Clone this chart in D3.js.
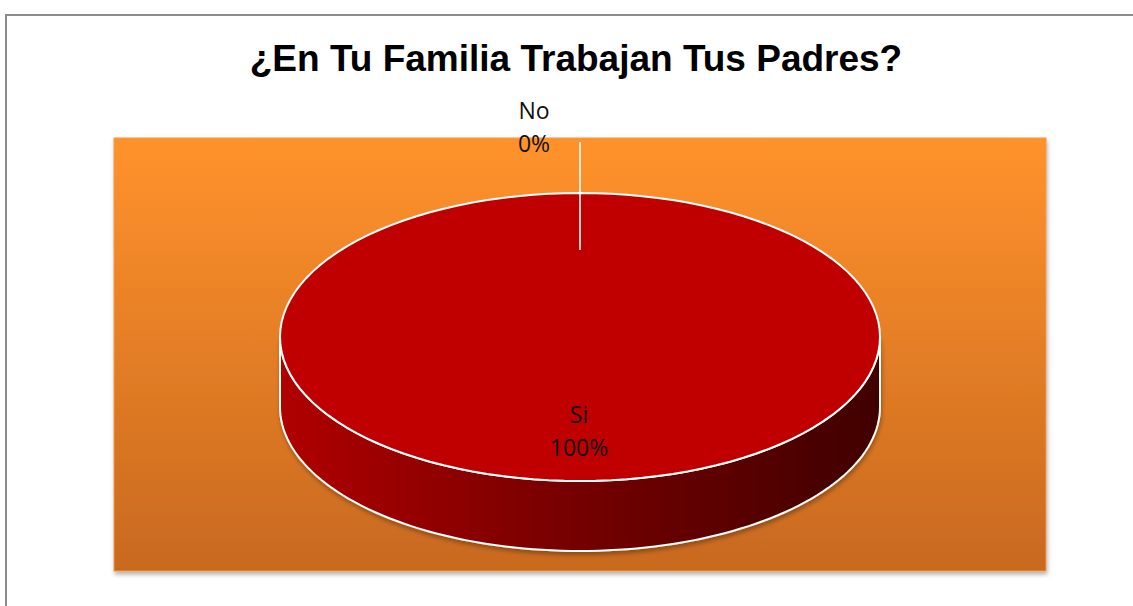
<!DOCTYPE html>
<html>
<head>
<meta charset="utf-8">
<script src="https://cdn.jsdelivr.net/npm/d3@7"></script>
<style>
  body{margin:0;background:#fff;}
  svg{display:block;}
</style>
</head>
<body>
<svg id="chart" width="1133" height="606"></svg>
<script>
// datos del grafico
const categorias = ["Si", "No"]
const valores = [100, 0]
const porcentajes = ["100%", "0%"]
const titulo = "¿En Tu Familia Trabajan Tus Padres?"

const svg = d3.select("#chart")
const defs = svg.append("defs")

// marco exterior
svg.append("rect")
  .attr("x", 6).attr("y", 15)
  .attr("width", 1140).attr("height", 620)
  .attr("fill", "#fff").attr("stroke", "#8c8c8c").attr("stroke-width", 2)

// gradiente del area de trazado
const gPlot = defs.append("linearGradient").attr("id", "gplot")
  .attr("x1", 0).attr("y1", 0).attr("x2", 0).attr("y2", 1)
gPlot.append("stop").attr("offset", "0%").attr("stop-color", "#ff922c")
gPlot.append("stop").attr("offset", "100%").attr("stop-color", "#c8691f")

const sombra = defs.append("filter").attr("id", "sombra")
  .attr("x", "-5%").attr("y", "-5%").attr("width", "110%").attr("height", "115%")
sombra.append("feDropShadow").attr("dx", 1).attr("dy", 3).attr("stdDeviation", 2)
  .attr("flood-color", "#000").attr("flood-opacity", 0.3)

svg.append("rect")
  .attr("x", 114).attr("y", 138)
  .attr("width", 932).attr("height", 433)
  .attr("fill", "url(#gplot)").attr("stroke", "#f79646").attr("stroke-width", 1)
  .attr("filter", "url(#sombra)")

// titulo
svg.append("text")
  .attr("x", 576).attr("y", 71)
  .attr("text-anchor", "middle")
  .attr("font-family", "Liberation Sans, Arial, sans-serif")
  .attr("font-weight", "bold").attr("font-size", 37)
  .attr("fill", "#000")
  .text(titulo)

// pastel 3d
const cx = 580, cy = 337, rx = 300, ry = 144, depth = 70
const colores = d3.scaleOrdinal().domain(categorias).range(["#c00000", "#4f81bd"])

const gSide = defs.append("linearGradient").attr("id", "gside")
  .attr("x1", 0).attr("y1", 0).attr("x2", 1).attr("y2", 0)
gSide.append("stop").attr("offset", "0%").attr("stop-color", "#b00000")
gSide.append("stop").attr("offset", "45%").attr("stop-color", "#7a0000")
gSide.append("stop").attr("offset", "100%").attr("stop-color", "#400000")

const pie = d3.pie().sort(null).value(d => d.v)
const arcs = pie(categorias.map((c, i) => ({c: c, v: valores[i], p: porcentajes[i]})))

const px = a => cx + rx * Math.sin(a)
const py = (a, h) => cy - ry * Math.cos(a) + (h || 0)

function topPath(d){
  const n = 120, pts = []
  for(let i = 0; i <= n; i++){
    const a = d.startAngle + (d.endAngle - d.startAngle) * i / n
    pts.push([px(a), py(a)])
  }
  const full = d.endAngle - d.startAngle >= 2 * Math.PI - 1e-6
  return "M" + (full ? "" : cx + "," + cy + "L") + pts.map(p => p.join(",")).join("L") + "Z"
}

function sidePath(d){
  const s = Math.max(d.startAngle, Math.PI / 2)
  const e = Math.min(d.endAngle, 3 * Math.PI / 2)
  if(e <= s) return null
  const n = 100, top = [], bot = []
  for(let i = 0; i <= n; i++){
    const a = s + (e - s) * i / n
    top.push([px(a), py(a)])
    bot.push([px(a), py(a, depth)])
  }
  return "M" + top.map(p => p.join(",")).join("L") + "L" + bot.reverse().map(p => p.join(",")).join("L") + "Z"
}

const pieG = svg.append("g")

pieG.selectAll("path.side")
  .data(arcs.filter(d => d.data.v > 0))
  .enter().append("path")
  .attr("class", "side")
  .attr("d", sidePath)
  .attr("fill", "url(#gside)")
  .attr("stroke", "#fff").attr("stroke-width", 2)
  .attr("filter", "url(#sombra)")

pieG.selectAll("path.top")
  .data(arcs.filter(d => d.data.v > 0))
  .enter().append("path")
  .attr("class", "top")
  .attr("d", topPath)
  .attr("fill", d => colores(d.data.c))
  .attr("stroke", "#fff").attr("stroke-width", 2)

// linea guia para la categoria de 0%
const cero = arcs.find(d => d.data.v === 0)
const aCero = (cero.startAngle + cero.endAngle) / 2
pieG.append("line")
  .attr("x1", px(aCero)).attr("y1", py(aCero) + 57)
  .attr("x2", px(aCero)).attr("y2", 142)
  .attr("stroke", "#fff").attr("stroke-opacity", 0.8).attr("stroke-width", 2)

// etiquetas
const etiquetas = [
  {d: arcs[0], x: 579, y: 423},
  {d: cero, x: 534, y: 119}
]
etiquetas.forEach(e => {
  const t = svg.append("text")
    .attr("text-anchor", "middle")
    .attr("font-family", "Open Sans, Liberation Sans, sans-serif")
    .attr("font-size", 23).attr("fill", "#111")
  t.append("tspan").attr("x", e.x).attr("y", e.y).text(e.d.data.c)
  t.append("tspan").attr("x", e.x).attr("y", e.y + 33).text(e.d.data.p)
})
</script>
</body>
</html>
